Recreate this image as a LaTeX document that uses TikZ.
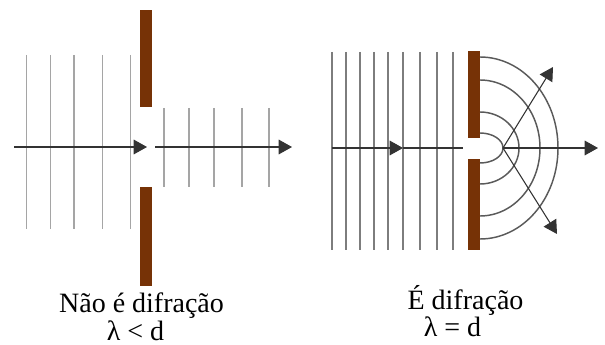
\documentclass[tikz,border=0pt]{standalone}
\usepackage{fontspec}
\setmainfont{Liberation Serif}
\usetikzlibrary{arrows.meta}

\definecolor{slitbrown}{RGB}{118,50,6}
\definecolor{frontgray}{RGB}{165,165,165}
\definecolor{frontdark}{RGB}{125,125,125}
\definecolor{arcgray}{RGB}{90,90,90}

\begin{document}
\begin{tikzpicture}[x=0.75pt,y=-0.75pt,
    wall/.style={fill=slitbrown,draw=none},
    front/.style={draw=frontgray,line width=1.1pt},
    frontb/.style={draw=frontdark,line width=1.1pt},
    ray/.style={draw=black!80,line width=0.8pt},
    tip/.style={-{Triangle[length=10pt,width=11pt]}},
    caption/.style={anchor=base,inner sep=0pt,font=\fontsize{21}{25}\selectfont}]
\useasboundingbox (0,0) rectangle (605,345);

% no diffraction
\foreach \x in {26.7,50.7,74,102.7,130.7}
  \draw[front] (\x,55) -- (\x,229);
\foreach \x in {164,189,214,242,269}
  \draw[front] (\x,108) -- (\x,187);
\fill[wall] (140,10) rectangle (152,107);
\fill[wall] (140,187) rectangle (152,286);
\coordinate (la) at (14,147);
\coordinate (lb) at (147,147);
\coordinate (lc) at (155,147);
\coordinate (ld) at (292,147);
\draw[ray,tip] (la) -- (lb);
\draw[ray,tip] (lc) -- (ld);
\node[caption] (nodif) at (141.5,312) {Não é difração};
\node[caption] (nodifrel) at (135.5,340) {λ < d};

% diffraction
\foreach \x in {332,346,360,374,388,403,420,437,453}
  \draw[frontb] (\x,52) -- (\x,250);
\fill[wall] (468,51) rectangle (480,138);
\fill[wall] (468,159) rectangle (480,250);
\foreach \rx/\ry in {23/15,39/36,60/68,78/91}
  \draw[arcgray,line width=1.1pt] (480,148-\ry)
    arc[start angle=-90,end angle=90,x radius=\rx,y radius=\ry];
\coordinate (ra) at (332,148);
\coordinate (rb) at (403,148);
\coordinate (rc) at (463,148);
\coordinate (src) at (503,148);
\coordinate (rout) at (598,148);
\coordinate (rup) at (553,67);
\coordinate (rdown) at (557,234);
\draw[ray,tip] (ra) -- (rb);
\draw[ray] (rb) -- (rc);
\draw[ray,tip] (src) -- (rout);
\draw[ray,tip] (src) -- (rup);
\draw[ray,tip] (src) -- (rdown);
\node[caption] (dif) at (465.5,309) {É difração};
\node[caption] (difrel) at (452.5,336) {λ = d};
\end{tikzpicture}
\end{document}
